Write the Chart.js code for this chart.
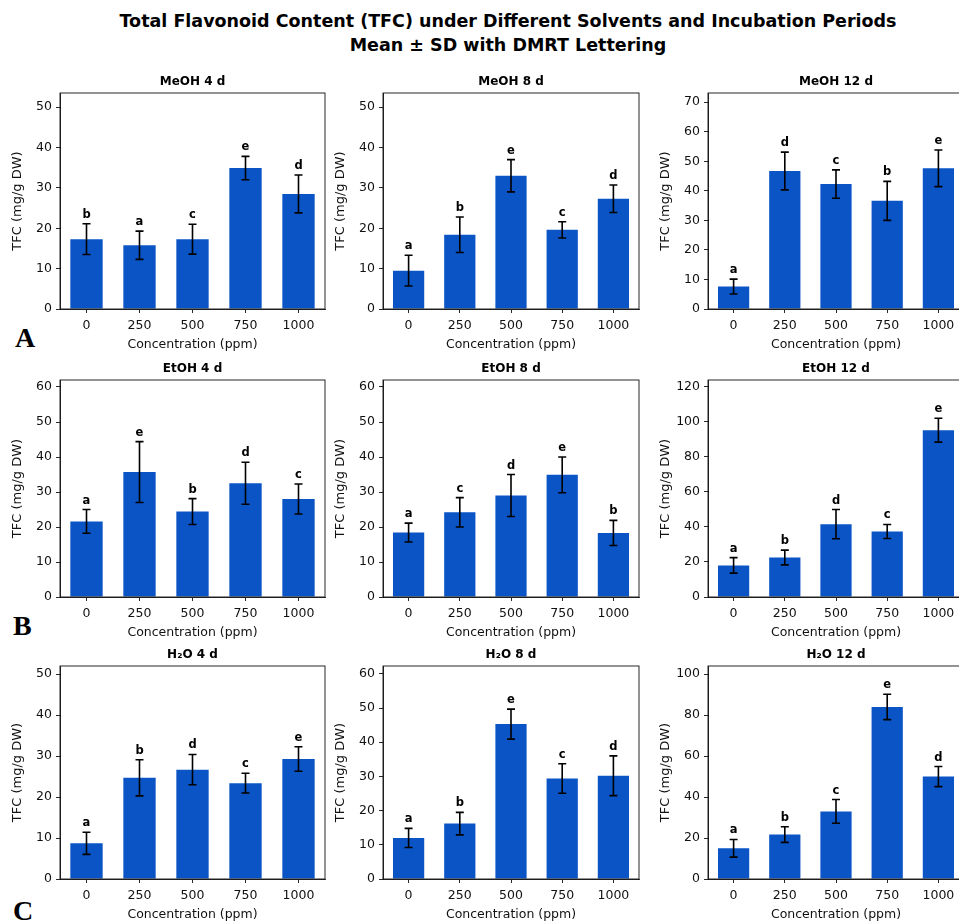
<!DOCTYPE html>
<html>
<head>
<meta charset="utf-8">
<script src="https://cdn.jsdelivr.net/npm/chart.js@4.4.1/dist/chart.umd.min.js"></script>
<style>
  html, body { margin: 0; padding: 0; width: 959px; height: 921px; overflow: hidden; background: #fff; }
  #title { position: absolute; left: 58px; top: 9px; width: 900px; text-align: center;
           font: bold 17.5px "DejaVu Sans"; line-height: 24px; color: #000; white-space: nowrap; }
  .tag { position: absolute; font: bold 28px "Liberation Serif"; line-height: 28px; color: #000; }
  canvas { position: absolute; }
</style>
</head>
<body>
<div id="title">Total Flavonoid Content (TFC) under Different Solvents and Incubation Periods<br>Mean ± SD with DMRT Lettering</div>
<div class="tag" style="left:15px; top:324px;">A</div>
<div class="tag" style="left:13px; top:612px;">B</div>
<div class="tag" style="left:13px; top:897px;">C</div>
<script>
// Concentration levels on every x axis
const concentrations = ['0', '250', '500', '750', '1000'];

// Methanol extracts: mean, SD and DMRT group letters
const meoh4Mean = [17.3, 15.8, 17.3, 34.9, 28.5];
const meoh4Sd = [3.8, 3.5, 3.7, 2.9, 4.7];
const meoh4Groups = ['b', 'a', 'c', 'e', 'd'];
const meoh8Mean = [9.5, 18.4, 33.0, 19.6, 27.3];
const meoh8Sd = [3.8, 4.4, 4.0, 2.0, 3.4];
const meoh8Groups = ['a', 'b', 'e', 'c', 'd'];
const meoh12Mean = [7.6, 46.7, 42.3, 36.6, 47.6];
const meoh12Sd = [2.5, 6.4, 4.8, 6.6, 6.2];
const meoh12Groups = ['a', 'd', 'c', 'b', 'e'];

// Ethanol extracts
const etoh4Mean = [21.6, 35.7, 24.4, 32.5, 28.0];
const etoh4Sd = [3.4, 8.7, 3.7, 6.0, 4.3];
const etoh4Groups = ['a', 'e', 'b', 'd', 'c'];
const etoh8Mean = [18.4, 24.2, 29.0, 34.9, 18.3];
const etoh8Sd = [2.7, 4.2, 6.0, 5.1, 3.6];
const etoh8Groups = ['a', 'c', 'd', 'e', 'b'];
const etoh12Mean = [18.0, 22.5, 41.5, 37.3, 95.0];
const etoh12Sd = [4.4, 4.2, 8.3, 4.0, 6.8];
const etoh12Groups = ['a', 'b', 'd', 'c', 'e'];

// Aqueous extracts
const h2o4Mean = [8.7, 24.7, 26.7, 23.4, 29.3];
const h2o4Sd = [2.7, 4.4, 3.7, 2.4, 3.0];
const h2o4Groups = ['a', 'b', 'd', 'c', 'e'];
const h2o8Mean = [12.0, 16.2, 45.3, 29.4, 30.2];
const h2o8Sd = [2.8, 3.3, 4.4, 4.3, 5.8];
const h2o8Groups = ['a', 'b', 'e', 'c', 'd'];
const h2o12Mean = [15.0, 21.7, 33.0, 84.0, 50.0];
const h2o12Sd = [4.3, 3.8, 5.8, 6.2, 4.9];
const h2o12Groups = ['a', 'b', 'c', 'e', 'd'];

// Y-axis tick values
const ticks50 = [0, 10, 20, 30, 40, 50];
const ticks60 = [0, 10, 20, 30, 40, 50, 60];
const ticks70 = [0, 10, 20, 30, 40, 50, 60, 70];
const ticks100 = [0, 20, 40, 60, 80, 100];
const ticks120 = [0, 20, 40, 60, 80, 100, 120];

const panels = [
  { title: 'MeOH 4 d',  mean: meoh4Mean,  sd: meoh4Sd,  groups: meoh4Groups,  yMax: 53.5,  yTicks: ticks50,  col: 0, row: 0 },
  { title: 'MeOH 8 d',  mean: meoh8Mean,  sd: meoh8Sd,  groups: meoh8Groups,  yMax: 53.5,  yTicks: ticks50,  col: 1, row: 0 },
  { title: 'MeOH 12 d', mean: meoh12Mean, sd: meoh12Sd, groups: meoh12Groups, yMax: 73.1,  yTicks: ticks70,  col: 2, row: 0 },
  { title: 'EtOH 4 d',  mean: etoh4Mean,  sd: etoh4Sd,  groups: etoh4Groups,  yMax: 62,    yTicks: ticks60,  col: 0, row: 1 },
  { title: 'EtOH 8 d',  mean: etoh8Mean,  sd: etoh8Sd,  groups: etoh8Groups,  yMax: 62,    yTicks: ticks60,  col: 1, row: 1 },
  { title: 'EtOH 12 d', mean: etoh12Mean, sd: etoh12Sd, groups: etoh12Groups, yMax: 123.6, yTicks: ticks120, col: 2, row: 1 },
  { title: 'H\u2082O 4 d',  mean: h2o4Mean,  sd: h2o4Sd,  groups: h2o4Groups,  yMax: 52,    yTicks: ticks50,  col: 0, row: 2 },
  { title: 'H\u2082O 8 d',  mean: h2o8Mean,  sd: h2o8Sd,  groups: h2o8Groups,  yMax: 62.3,  yTicks: ticks60,  col: 1, row: 2 },
  { title: 'H\u2082O 12 d', mean: h2o12Mean, sd: h2o12Sd, groups: h2o12Groups, yMax: 104,   yTicks: ticks100, col: 2, row: 2 }
];

// Plot-box edges for the 3x3 grid (pixels)
const colBox = [[60, 325], [383, 639], [708, 964]];
const rowBox = [[93, 309], [380, 597], [666, 879]];
const PAD_TOP = 30, PAD_RIGHT = 5, Y_AXIS_W = 60, X_AXIS_H = 45;

const FONT = '"DejaVu Sans"';
const BAR_BLUE = '#0A54C6';

// Draws the full frame, SD error bars, DMRT letters and the panel title
const panelDecor = {
  id: 'panelDecor',
  afterDatasetsDraw(chart, args, opts) {
    const { ctx, chartArea: a, scales: { y } } = chart;
    const ds = chart.data.datasets[0];
    const meta = chart.getDatasetMeta(0);
    ctx.save();
    ctx.strokeStyle = '#111';
    ctx.lineWidth = 0.9;
    ctx.strokeRect(a.left, a.top, a.right - a.left, a.bottom - a.top);

    ctx.strokeStyle = '#000';
    ctx.lineWidth = 1.6;
    ctx.fillStyle = '#000';
    ctx.textAlign = 'center';
    ctx.textBaseline = 'alphabetic';
    ctx.font = 'bold 11.5px ' + FONT;
    ds.data.forEach((m, i) => {
      const cx = meta.data[i].x;
      const yt = y.getPixelForValue(m + ds.errorBars[i]);
      const yb = y.getPixelForValue(m - ds.errorBars[i]);
      ctx.beginPath();
      ctx.moveTo(cx, yt); ctx.lineTo(cx, yb);
      ctx.moveTo(cx - 4, yt); ctx.lineTo(cx + 4, yt);
      ctx.moveTo(cx - 4, yb); ctx.lineTo(cx + 4, yb);
      ctx.stroke();
      ctx.fillText(ds.groupLetters[i], cx, yt - 6);
    });

    ctx.font = 'bold 12px ' + FONT;
    ctx.textBaseline = 'middle';
    ctx.fillText(opts.title, (a.left + a.right) / 2, a.top - 11);
    ctx.restore();
  }
};

panels.forEach(p => {
  const [bx0, bx1] = colBox[p.col];
  const [by0, by1] = rowBox[p.row];
  const canvas = document.createElement('canvas');
  const w = (bx1 - bx0) + Y_AXIS_W + PAD_RIGHT;
  const h = (by1 - by0) + PAD_TOP + X_AXIS_H;
  canvas.width = w;
  canvas.height = h;
  canvas.style.left = (bx0 - Y_AXIS_W) + 'px';
  canvas.style.top = (by0 - PAD_TOP) + 'px';
  canvas.style.width = w + 'px';
  canvas.style.height = h + 'px';
  document.body.appendChild(canvas);

  new Chart(canvas, {
    type: 'bar',
    data: {
      labels: concentrations,
      datasets: [{
        data: p.mean,
        errorBars: p.sd,
        groupLetters: p.groups,
        backgroundColor: BAR_BLUE,
        borderWidth: 0,
        barPercentage: 0.61,
        categoryPercentage: 1.0
      }]
    },
    options: {
      responsive: false,
      animation: false,
      devicePixelRatio: 1,
      layout: { padding: { top: PAD_TOP, right: PAD_RIGHT, bottom: 0, left: 0 } },
      plugins: {
        legend: { display: false },
        tooltip: { enabled: false },
        panelDecor: { title: p.title }
      },
      scales: {
        x: {
          type: 'category',
          offset: true,
          grid: { display: true, drawOnChartArea: false, drawTicks: true, tickLength: 4, offset: false, color: '#111', lineWidth: 0.9 },
          border: { display: true, color: '#111', width: 0.9 },
          ticks: { color: '#111', font: { family: FONT, size: 12.5 }, padding: 5, maxRotation: 0, autoSkip: false },
          title: { display: true, text: 'Concentration (ppm)', color: '#111', font: { family: FONT, size: 12.5 }, padding: { top: 0, bottom: 2 } },
          afterFit(s) { s.height = X_AXIS_H; }
        },
        y: {
          min: 0,
          max: p.yMax,
          afterBuildTicks(s) { s.ticks = p.yTicks.map(v => ({ value: v })); },
          grid: { display: true, drawOnChartArea: false, drawTicks: true, tickLength: 4, color: '#111', lineWidth: 0.9 },
          border: { display: true, color: '#111', width: 0.9 },
          ticks: { color: '#111', font: { family: FONT, size: 12.5 }, padding: 4 },
          title: { display: true, text: 'TFC (mg/g DW)', color: '#111', font: { family: FONT, size: 13 }, padding: { top: 10, bottom: 0 } },
          afterFit(s) { s.width = Y_AXIS_W; }
        }
      }
    },
    plugins: [panelDecor]
  });
});
</script>
</body>
</html>
